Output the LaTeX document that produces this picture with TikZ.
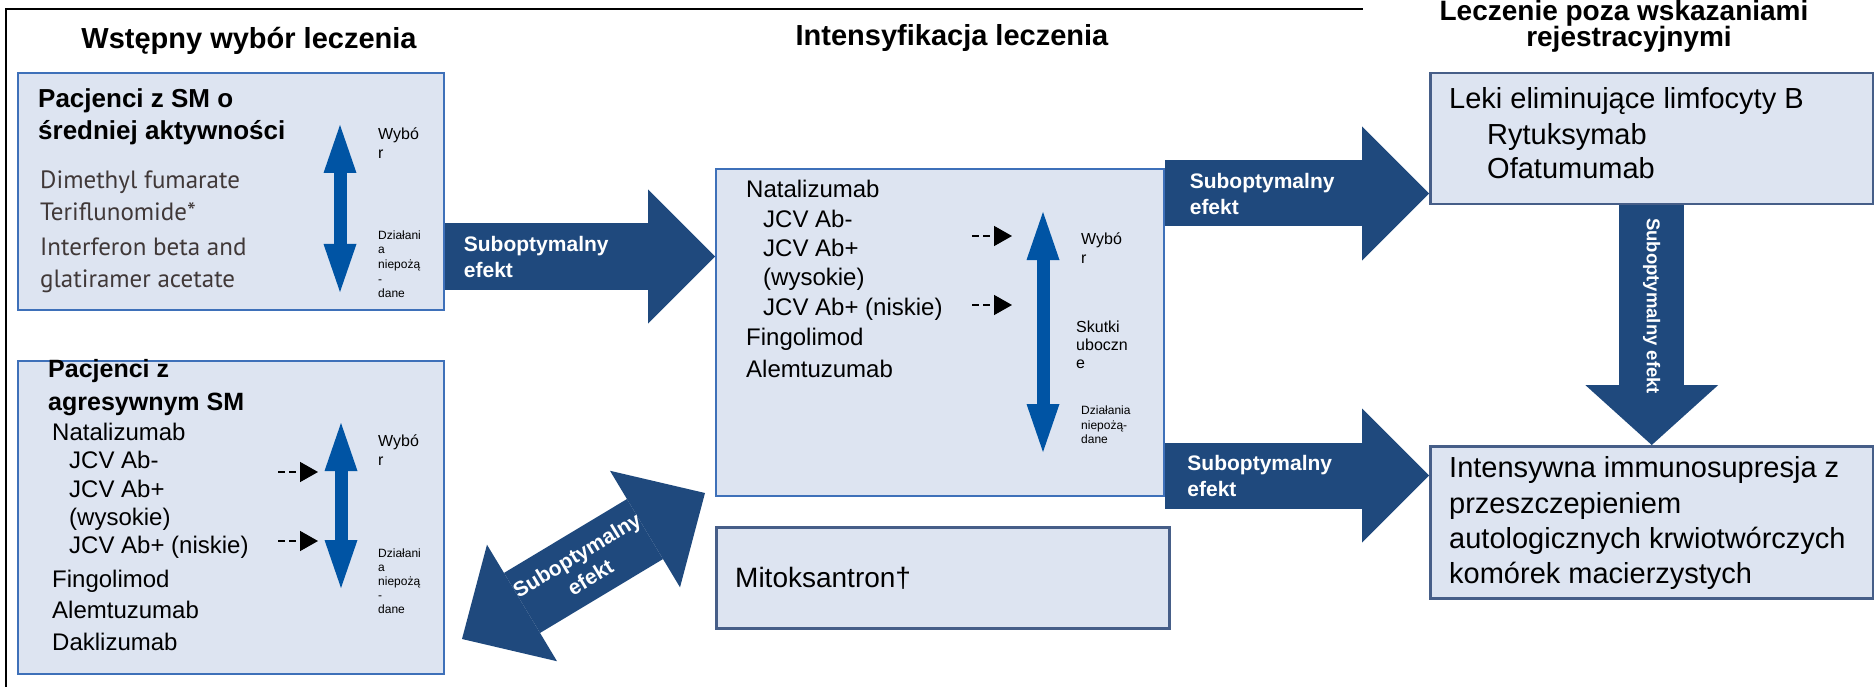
\documentclass[tikz,border=0pt]{standalone}
\usepackage{fontspec}
\setmainfont{Liberation Sans}
\newfontfamily\lancetfont{PT Sans}
\usetikzlibrary{arrows.meta}
\definecolor{navyarrow}{RGB}{31,73,125}
\definecolor{choiceblue}{RGB}{0,84,164}
\definecolor{boxfill}{RGB}{221,228,241}
\definecolor{boxline}{RGB}{62,112,185}
\definecolor{darkboxline}{RGB}{70,94,136}
\definecolor{lancetgray}{RGB}{64,56,56}
\tikzset{box/.style={rectangle, draw=boxline, fill=boxfill, line width=2pt, inner sep=0pt, anchor=north west},
darkbox/.style={box, draw=darkboxline, line width=2.5pt},
fatarrow/.style={draw=navyarrow, line width=66pt, -{Triangle[length=67pt, width=134pt, line width=0pt]}},
fatdoublearrow/.style={draw=navyarrow, line width=70pt, {Triangle[length=70pt, width=136pt, line width=0pt]}-{Triangle[length=70pt, width=136pt, line width=0pt]}},
choicearrow/.style={draw=choiceblue, line width=13pt, {Triangle[length=48pt, width=33pt, line width=0pt]}-{Triangle[length=48pt, width=33pt, line width=0pt]}},
dasharrow/.style={draw=black, line width=1.5pt, dash pattern=on 7pt off 4pt, -{Triangle[length=18pt, width=20pt]}},
arrowtext/.style={text=white, font=\fontsize{21}{26}\selectfont\bfseries, inner sep=0pt, outer sep=0pt, align=left}}

\begin{document}
\begin{tikzpicture}[
                x=1pt, y=-1pt,
                title/.style={anchor=base, inner sep=0pt, font=\fontsize{29}{29}\selectfont\bfseries},
                headline/.style={anchor=base west, inner sep=0pt, font=\fontsize{26}{26}\selectfont\bfseries},
                drugline/.style={anchor=base west, inner sep=0pt, font=\fontsize{24}{24}\selectfont},
                lancetline/.style={anchor=base west, inner sep=0pt, text=lancetgray, font=\lancetfont\fontsize{25}{25}\selectfont},
                bigline/.style={anchor=base west, inner sep=0pt, font=\fontsize{29}{29}\selectfont},
                choicelabel/.style={anchor=base west, inner sep=0pt, font=\fontsize{16}{16}\selectfont},
                sidelabel/.style={anchor=base west, inner sep=0pt, font=\fontsize{12}{12}\selectfont}
            ]
                \useasboundingbox (0,0) rectangle (1874,687);
                \draw[line width=2.5pt] (6,687) -- (6,9) -- (1363,9);

                % Titles
                \node[title] (titleinit) at (249,49) {Wstępny wybór leczenia};
                \node[title] (titleint) at (952,46) {Intensyfikacja leczenia};
                \node[title, font=\fontsize{28}{28}\selectfont\bfseries] (titleoff1) at (1624,21) {Leczenie poza wskazaniami};
                \node[title, font=\fontsize{28}{28}\selectfont\bfseries] (titleoff2) at (1629,47) {rejestracyjnymi};

                % Boxes
                \node[box, minimum width=426, minimum height=237] (box1) at (17,72) {};
                \node[box, minimum width=426, minimum height=313] (box2) at (17,360) {};
                \node[box, minimum width=448, minimum height=327] (box3) at (715,168) {};
                \node[darkbox, minimum width=453, minimum height=101] (mito) at (715,526) {};
                \node[darkbox, minimum width=443, minimum height=131] (leki) at (1429,72) {};
                \node[darkbox, minimum width=443, minimum height=152] (intens) at (1429,445) {};

                % Box 1
                \foreach \x/\y/\t [count=\i] in {38/108/{Pacjenci z SM o}, 38/140/{średniej aktywności}} {
\node[headline] (b1h\i) at (\x,\y) {\t};
}
                \foreach \x/\y/\t [count=\i] in {40/189/{Dimethyl fumarate}, 40/221/{Teriflunomide*}, 40/255/{Interferon beta and}, 40/287/{glatiramer acetate}} {
\node[lancetline] (b1d\i) at (\x,\y) {\t};
}
                \node[choicelabel] (b1w1) at (378,140) {Wybó};
                \node[choicelabel] (b1w2) at (378,159) {r};
                \foreach \y/\t [count=\i] in {240/Działani, 254/a, 268/niepożą, 283/-, 297/dane} {
\node[sidelabel] (b1s\i) at (378,\y) {\t};
}

                % Box 2
                \foreach \x/\y/\t [count=\i] in {48/377/{Pacjenci z}, 48/410/{agresywnym SM}} {
\node[headline, font=\fontsize{25}{25}\selectfont\bfseries] (b2h\i) at (\x,\y) {\t};
}
                \foreach \x/\y/\t [count=\i] in {52/440/Natalizumab, 69/468/{JCV Ab-}, 69/497/{JCV Ab+}, 69/525/{(wysokie)}, 69/553/{JCV Ab+ (niskie)}, 52/587/Fingolimod, 52/618/Alemtuzumab, 52/650/Daklizumab} {
\node[drugline] (b2d\i) at (\x,\y) {\t};
}
                \node[choicelabel] (b2w1) at (378,446) {Wybó};
                \node[choicelabel] (b2w2) at (378,465) {r};
                \foreach \y/\t [count=\i] in {557/Działani, 571/a, 585/niepożą, 599/-, 613/dane} {
\node[sidelabel] (b2s\i) at (378,\y) {\t};
}

                % Box 3
                \foreach \x/\y/\t [count=\i] in {746/198/Natalizumab, 763/228/{JCV Ab-}, 763/257/{JCV Ab+}, 763/285/{(wysokie)}, 763/315/{JCV Ab+ (niskie)}, 746/345/Fingolimod, 746/377/Alemtuzumab} {
\node[drugline] (b3d\i) at (\x,\y) {\t};
}
                \node[choicelabel] (b3w1) at (1081,244) {Wybó};
                \node[choicelabel] (b3w2) at (1081,263) {r};
                \foreach \y/\t [count=\i] in {332/Skutki, 350/uboczn, 368/e} {
\node[choicelabel] (b3k\i) at (1076,\y) {\t};
}
                \foreach \y/\t [count=\i] in {414/Działania, 429/niepożą-, 443/dane} {
\node[sidelabel] (b3s\i) at (1081,\y) {\t};
}

                % Right boxes
                \node[bigline, font=\fontsize{28}{28}\selectfont] (mitotext) at (735,587) {Mitoksantron†};
                \foreach \x/\y/\t [count=\i] in {1449/109/{Leki eliminujące limfocyty B}, 1487/145/Rytuksymab, 1487/179/Ofatumumab} {
\node[bigline] (lk\i) at (\x,\y) {\t};
}
                \foreach \y/\t [count=\i] in {477/{Intensywna immunosupresja z}, 513/przeszczepieniem, 548/{autologicznych krwiotwórczych}, 583/{komórek macierzystych}} {
\node[bigline] (in\i) at (1449,\y) {\t};
}

                % Choice arrows
                \coordinate (c1t) at (340,125); \coordinate (c1b) at (340,292);
                \coordinate (c2t) at (341,423); \coordinate (c2b) at (341,588);
                \coordinate (c3t) at (1043,212); \coordinate (c3b) at (1043,452);
                \foreach \i in {1,2,3} {
\draw[choicearrow] (c\i b) -- (c\i t);
}
                \foreach \x/\y [count=\i] in {278/472, 278/541, 972/236, 972/305} {
\coordinate (ds\i) at (\x,\y);
\coordinate (de\i) at (\x+40,\y);
\draw[dasharrow] (ds\i) -- (de\i);
}

                % Block arrows
                \draw[fatarrow] (box1.east |- 0,256.5) -- (box3.west |- 0,256.5) node[arrowtext, pos=0.07, anchor=west] (lab1) {Suboptymalny\\efekt};
                \draw[fatarrow] (box3.east |- 0,193.5) -- (leki.west |- 0,193.5) node[arrowtext, pos=0.094, anchor=west] (lab2) {Suboptymalny\\efekt};
                \draw[fatarrow] (box3.east |- 0,475.5) -- (intens.west |- 0,475.5) node[arrowtext, pos=0.085, anchor=west] (lab3) {Suboptymalny\\efekt};
                \draw[fatarrow, -{Triangle[length=60pt, width=133pt, line width=0pt]}, line width=65pt] (leki.south) -- (intens.north) node[arrowtext, pos=0.42, sloped, font=\fontsize{18.5}{20}\selectfont\bfseries] (lab4) {Suboptymalny efekt};
                \coordinate (dgl) at (462,639);
                \coordinate (dgr) at (705,493);
                \draw[fatdoublearrow] (dgl) -- (dgr) node[arrowtext, midway, sloped, align=center] (lab5) {Suboptymalny\\efekt};
            \end{tikzpicture}
\end{document}
